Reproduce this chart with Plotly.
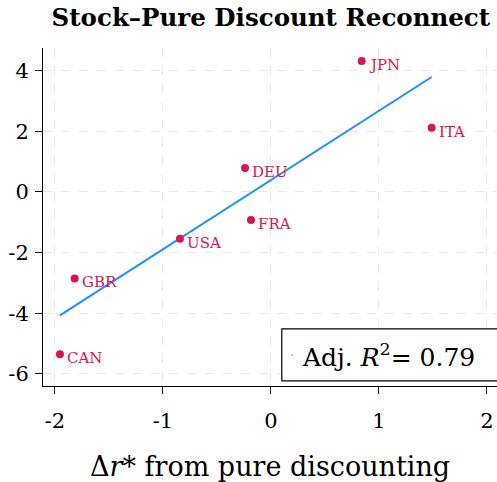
import numpy as np
import plotly.graph_objects as go

# Country-level estimates
countries = ["JPN", "ITA", "DEU", "FRA", "USA", "GBR", "CAN"]
delta_r = [0.84, 1.488, -0.24, -0.185, -0.843, -1.818, -1.954]
stock_ret = [4.32, 2.12, 0.79, -0.92, -1.54, -2.85, -5.35]

x_ticks = [-2, -1, 0, 1, 2]
x_tick_text = ["-2", "-1", "0", "1", "2"]
y_ticks = [-6, -4, -2, 0, 2, 4]
y_tick_text = ["-6", "-4", "-2", "0", "2", "4"]

# OLS fit and adjusted R^2
x = np.array(delta_r)
y = np.array(stock_ret)
slope, intercept = np.polyfit(x, y, 1)
resid = y - (slope * x + intercept)
r2 = 1 - (resid ** 2).sum() / ((y - y.mean()) ** 2).sum()
n = len(x)
adj_r2 = 1 - (1 - r2) * (n - 1) / (n - 2)
x_fit = np.array([x.min(), x.max()])
y_fit = slope * x_fit + intercept

FONT = "DejaVu Serif"
RED = "#d9144f"
BLUE = "#1e90ff"

fig = go.Figure()
fig.add_trace(go.Scatter(x=x_fit, y=y_fit, mode="lines",
                         line=dict(color=BLUE, width=2), showlegend=False,
                         hoverinfo="skip"))
fig.add_trace(go.Scatter(x=delta_r, y=stock_ret, mode="markers",
                         marker=dict(color=RED, size=8), showlegend=False))

for c, xv, yv in zip(countries, delta_r, stock_ret):
    fig.add_annotation(x=xv, y=yv, text=c, showarrow=False,
                       xanchor="left", yanchor="middle", xshift=5, yshift=-4,
                       font=dict(family=FONT, size=15, color=RED))

# Legend box with adjusted R^2
fig.add_shape(type="rect", xref="paper", yref="paper",
              x0=0.526, x1=1.06, y0=0.015, y1=0.169,
              line=dict(color="black", width=1.2), fillcolor="white")
fig.add_shape(type="line", xref="paper", yref="paper",
              x0=0.547, x1=0.551, y0=0.0917, y1=0.0917,
              line=dict(color=BLUE, width=1))
fig.add_annotation(xref="paper", yref="paper", x=0.566, y=0.0917,
                   text=f"Adj. <i>R</i><sup>2</sup>= {adj_r2:.2f}",
                   showarrow=False, xanchor="left", yanchor="middle",
                   font=dict(family=FONT, size=25, color="black"))

# x-axis title
fig.add_annotation(xref="paper", yref="paper", x=0.5, y=-0.237,
                   text="Δ<i>r</i>* from pure discounting", showarrow=False,
                   xanchor="center", yanchor="middle",
                   font=dict(family=FONT, size=27, color="black"))

grid = dict(showgrid=True, gridcolor="#e8e8e8", gridwidth=1, griddash="dash",
            zeroline=False, showline=True, linecolor="black", linewidth=1,
            ticks="outside", ticklen=7, tickcolor="black", tickwidth=1,
            tickfont=dict(family=FONT, size=21, color="black"))

fig.update_layout(
    width=497, height=482,
    margin=dict(l=43, r=0, t=48, b=96),
    paper_bgcolor="white", plot_bgcolor="white",
    title=dict(text="<b>Stock–Pure Discount Reconnect</b>", x=0.545, xanchor="center",
               y=0.963, yanchor="middle",
               font=dict(family=FONT, size=24.5, color="black")),
    xaxis=dict(range=[-2.111, 2.093], tickvals=x_ticks, ticktext=x_tick_text,
               ticklabelstandoff=9, **grid),
    yaxis=dict(range=[-6.4, 4.75], tickvals=y_ticks, ticktext=y_tick_text,
               ticklabelstandoff=2, **grid),
)

fig.write_html("out.html")
